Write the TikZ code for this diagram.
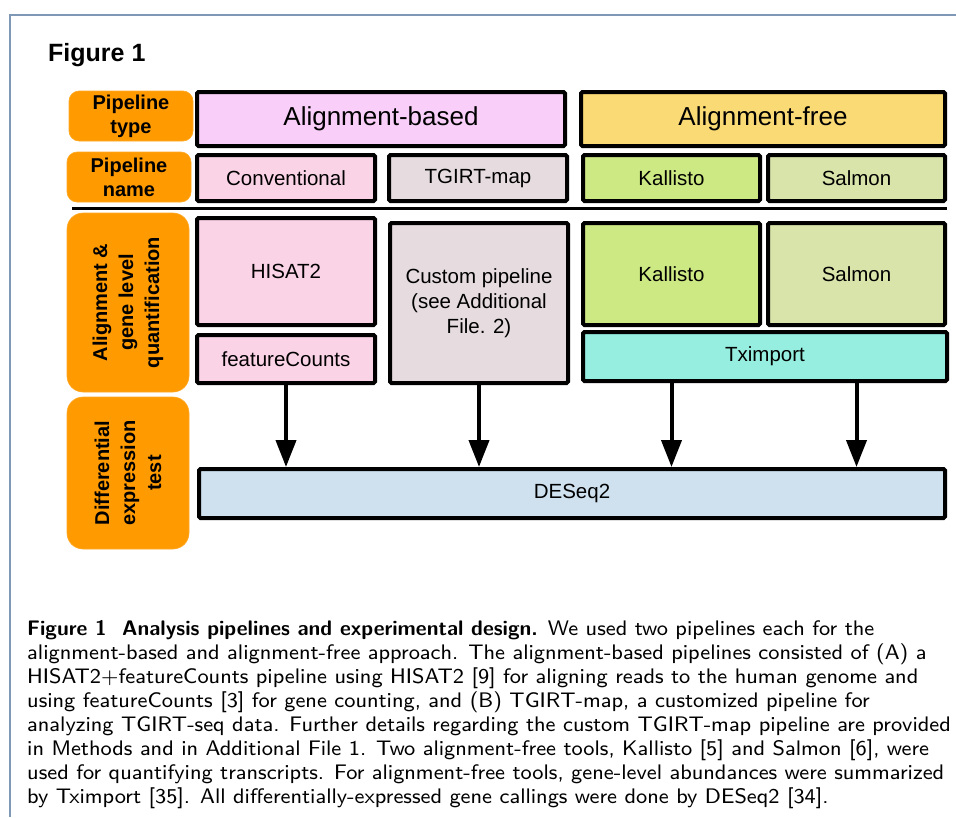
\documentclass[tikz,border=0pt]{standalone}
\usepackage{fontspec}
\newfontfamily\arialf{Liberation Sans}
\newfontfamily\capf{lmsans8-regular.otf}[BoldFont=lmsans10-bold.otf]
\usetikzlibrary{arrows.meta}
\definecolor{framec}{HTML}{7F98B5}
\definecolor{orng}{HTML}{FF9A00}
\definecolor{abased}{HTML}{F9CFF9}
\definecolor{afree}{HTML}{F9DA75}
\definecolor{convc}{HTML}{FAD3E6}
\definecolor{tgirtc}{HTML}{E6DCE0}
\definecolor{kallc}{HTML}{CDE983}
\definecolor{salmc}{HTML}{D9E4AA}
\definecolor{txc}{HTML}{95EEDF}
\definecolor{desc}{HTML}{CFE1EF}
\begin{document}
\begin{tikzpicture}[x=1pt,y=-1pt,
  box/.style={draw=black, line width=4pt, rounded corners=1.5pt, inner sep=0pt, align=center,
    font=\arialf\fontsize{20.5}{25}\selectfont},
  bigbox/.style={box, font=\arialf\fontsize{26}{30}\selectfont},
  lab/.style={fill=orng, draw=orng!85!white, line width=0.6pt, rounded corners=10pt, inner sep=0pt, align=center,
    font=\arialf\bfseries\fontsize{20}{24}\selectfont},
  arr/.style={line width=4pt, -{Triangle[length=27pt,width=20pt]}}]
\useasboundingbox (0,0) rectangle (956,817);
\fill[white] (0,0) rectangle (956,817);
% frame
\draw[framec, line width=1.5pt] (956,15) -- (10,15) -- (10,817);
% title
\node[anchor=base west, inner sep=0pt, font=\arialf\bfseries\fontsize{25}{30}\selectfont] (title) at (48,61) {Figure 1};
% orange labels
\node[lab, minimum width=124, minimum height=50] (ltype) at (131,116) {Pipeline\\type};
\node[lab, minimum width=124, minimum height=50] (lname) at (129,177) {Pipeline\\name};
\node[lab, rounded corners=16pt, rotate=90, minimum width=179, minimum height=122, font=\arialf\bfseries\fontsize{20}{26}\selectfont] (lalign) at (128,302.5) {Alignment \&\\gene level\\quantification};
\node[lab, rounded corners=16pt, rotate=90, minimum width=152, minimum height=122, font=\arialf\bfseries\fontsize{20}{26}\selectfont] (ldiff) at (128,473) {Differential\\expression\\test};
% pipeline type
\node[bigbox, fill=abased, minimum width=368, minimum height=54] (ab) at (381,119) {Alignment-based};
\node[bigbox, fill=afree, minimum width=364, minimum height=54] (af) at (763,119) {Alignment-free};
% pipeline names
\node[box, fill=convc, minimum width=178, minimum height=46] (conv) at (286,178) {Conventional};
\node[box, fill=tgirtc, minimum width=178, minimum height=46] (tgirt) at (478,178) {TGIRT-map};
\node[box, fill=kallc, minimum width=177, minimum height=46] (k2) at (671.5,178) {Kallisto};
\node[box, fill=salmc, minimum width=177, minimum height=46] (s2) at (856.5,178) {Salmon};
% separator
\draw[line width=3pt] (72,208) -- (947,208);
% quantification
\node[box, fill=convc, minimum width=178, minimum height=107] (hisat) at (286,271.5) {HISAT2};
\node[box, fill=convc, minimum width=178, minimum height=48] (fc) at (286,359) {featureCounts};
\node[box, fill=tgirtc, minimum width=178, minimum height=160] (cp) at (479,303) {Custom pipeline\\(see Additional\\File. 2)};
\node[box, fill=kallc, minimum width=177, minimum height=102] (k3) at (671.5,274) {Kallisto};
\node[box, fill=salmc, minimum width=177, minimum height=102] (s3) at (856.5,274) {Salmon};
\node[box, fill=txc, minimum width=364, minimum height=49] (tx) at (765,356.5) {Tximport};
% DESeq2
\node[box, fill=desc, minimum width=746, minimum height=49] (deseq) at (572,493.5) {DESeq2};
% arrows
\draw[arr] (fc.south) -- (deseq.north -| fc.south);
\draw[arr] (cp.south) -- (deseq.north -| cp.south);
\draw[arr] (tx.south -| k3.south) -- (deseq.north -| k3.south);
\draw[arr] (tx.south -| s3.south) -- (deseq.north -| s3.south);
% caption
\node[anchor=base west, inner sep=0pt] (cap) at (27,635) {\parbox[t]{1000pt}{\raggedright\capf\fontsize{21.05}{24}\selectfont
\textbf{Figure 1\ \ Analysis pipelines and experimental design.} We used two pipelines each for the\\
alignment-based and alignment-free approach. The alignment-based pipelines consisted of (A) a\\
HISAT2+featureCounts pipeline using HISAT2 [9] for aligning reads to the human genome and\\
using featureCounts [3] for gene counting, and (B) TGIRT-map, a customized pipeline for\\
analyzing TGIRT-seq data. Further details regarding the custom TGIRT-map pipeline are provided\\
in Methods and in Additional File 1. Two alignment-free tools, Kallisto [5] and Salmon [6], were\\
used for quantifying transcripts. For alignment-free tools, gene-level abundances were summarized\\
by Tximport [35]. All differentially-expressed gene callings were done by DESeq2 [34].}};
\end{tikzpicture}
\end{document}
